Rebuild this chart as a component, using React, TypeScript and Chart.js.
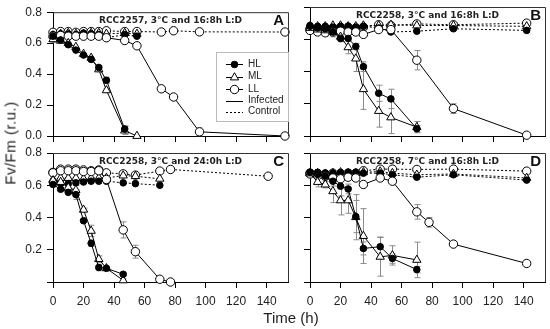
import React, { useEffect, useRef } from 'react';
import { Chart, registerables } from 'chart.js';
Chart.register(...registerables);

// ---------- axis ticks ----------
const xTicks = [0, 20, 40, 60, 80, 100, 120, 140];
const yTicks = [0, 0.2, 0.4, 0.6, 0.8];
const X_MAX = 154;

// ---------- Panel A: RCC2257, 3°C and 16:8h L:D ----------
const aHLinfT = [0, 5, 10, 15, 20, 25, 30, 35, 47];
const aHLinfV = [0.645, 0.62, 0.59, 0.555, 0.523, 0.495, 0.443, 0.36, 0.045];
const aHLinfE = [0, 0, 0, 0, 0, 0, 0.01, 0.02, 0.02];
const aMLinfT = [0, 5, 10, 15, 20, 25, 30, 35, 47, 55];
const aMLinfV = [0.625, 0.615, 0.6, 0.575, 0.53, 0.505, 0.43, 0.295, 0.035, 0.0];
const aMLinfE = [0.02, 0, 0, 0, 0, 0, 0, 0.01, 0.025, 0];
const aLLinfT = [0, 5, 10, 15, 20, 25, 30, 35, 47, 55, 71, 79, 96, 152];
const aLLinfV = [0.645, 0.65, 0.645, 0.645, 0.645, 0.645, 0.645, 0.635, 0.617, 0.583, 0.305, 0.252, 0.027, 0.0];
const aLLinfE = [0, 0, 0, 0, 0, 0, 0, 0, 0, 0, 0.015, 0, 0.025, 0];
const aCtlT = [0, 5, 10, 15, 20, 25, 30, 35, 47, 55];
const aHLctlV = [0.655, 0.66, 0.66, 0.655, 0.665, 0.66, 0.655, 0.635, 0.655, 0.645];
const aMLctlV = [0.65, 0.66, 0.665, 0.66, 0.66, 0.665, 0.665, 0.66, 0.665, 0.66];
const aLLctlT = [0, 5, 10, 15, 20, 25, 30, 35, 47, 55, 71, 79, 96, 152];
const aLLctlV = [0.67, 0.675, 0.675, 0.67, 0.675, 0.675, 0.675, 0.68, 0.675, 0.675, 0.672, 0.68, 0.673, 0.672];

// ---------- Panel B: RCC2258, 3°C and 16:8h L:D ----------
const bInfT = [0, 5, 10, 15, 20, 25, 30, 35, 45, 53, 70];
const bHLinfV = [0.68, 0.67, 0.665, 0.645, 0.605, 0.605, 0.555, 0.43, 0.265, 0.23, 0.045];
const bHLinfE = [0, 0, 0, 0.01, 0.02, 0, 0.02, 0.03, 0.05, 0.06, 0.02];
const bMLinfV = [0.67, 0.66, 0.655, 0.645, 0.615, 0.55, 0.48, 0.29, 0.155, 0.115, 0.055];
const bMLinfE = [0.02, 0.02, 0.02, 0.03, 0.03, 0.04, 0.08, 0.125, 0.1, 0.1, 0.035];
const bLLT = [0, 5, 10, 15, 20, 25, 30, 35, 45, 53, 70, 94, 142];
const bLLinfV = [0.655, 0.645, 0.64, 0.645, 0.65, 0.645, 0.645, 0.63, 0.66, 0.66, 0.47, 0.17, 0.005];
const bLLinfE = [0.01, 0.015, 0.02, 0.015, 0, 0, 0, 0.01, 0, 0, 0.06, 0.03, 0];
const bHLctlV = [0.685, 0.68, 0.68, 0.675, 0.68, 0.68, 0.675, 0.68, 0.67, 0.645, 0.65, 0.665, 0.655];
const bMLctlV = [0.68, 0.68, 0.68, 0.685, 0.685, 0.68, 0.68, 0.685, 0.685, 0.69, 0.685, 0.685, 0.68];
const bLLctlV = [0.665, 0.67, 0.67, 0.67, 0.675, 0.675, 0.67, 0.675, 0.69, 0.685, 0.695, 0.69, 0.7];

// ---------- Panel C: RCC2258, 3°C and 24:0h L:D ----------
const cInfT = [0, 5, 10, 15, 20, 25, 30, 35, 46];
const cHLinfV = [0.605, 0.575, 0.556, 0.542, 0.38, 0.24, 0.09, 0.085, 0.048];
const cHLinfE = [0.01, 0.01, 0, 0.03, 0, 0.02, 0.02, 0, 0.01];
const cMLinfV = [0.63, 0.62, 0.585, 0.57, 0.448, 0.317, 0.142, 0.085, 0.01];
const cMLinfE = [0.01, 0.02, 0.01, 0.03, 0.01, 0.035, 0.02, 0, 0.01];
const cLLinfT = [0, 5, 10, 15, 20, 25, 30, 35, 46, 54, 70, 77];
const cLLinfV = [0.677, 0.69, 0.69, 0.69, 0.685, 0.685, 0.69, 0.636, 0.323, 0.188, 0.017, 0.0];
const cLLinfE = [0, 0, 0, 0, 0, 0, 0, 0, 0.05, 0.04, 0.01, 0];
const cCtlT = [0, 5, 10, 15, 20, 25, 30, 35, 46, 54, 70];
const cHLctlV = [0.61, 0.61, 0.61, 0.615, 0.62, 0.625, 0.625, 0.625, 0.615, 0.61, 0.6];
const cMLctlV = [0.636, 0.645, 0.645, 0.645, 0.64, 0.645, 0.645, 0.645, 0.66, 0.656, 0.64];
const cLLctlT = [0, 5, 10, 15, 20, 25, 30, 35, 46, 54, 70, 77, 141];
const cLLctlV = [0.68, 0.7, 0.7, 0.7, 0.695, 0.69, 0.695, 0.677, 0.671, 0.663, 0.688, 0.698, 0.656];

// ---------- Panel D: RCC2258, 7°C and 16:8h L:D ----------
const dInfT = [0, 5, 10, 15, 20, 25, 30, 35, 46, 54, 70];
const dHLinfV = [0.68, 0.667, 0.656, 0.625, 0.594, 0.577, 0.406, 0.208, 0.219, 0.146, 0.077];
const dHLinfE = [0.01, 0.02, 0.02, 0.03, 0.06, 0.03, 0.1, 0.04, 0.06, 0.03, 0.02];
const dMLinfV = [0.673, 0.62, 0.604, 0.5625, 0.506, 0.506, 0.402, 0.285, 0.156, 0.165, 0.137];
const dMLinfE = [0.02, 0.03, 0.02, 0.07, 0.09, 0.08, 0.14, 0.17, 0.12, 0.06, 0.11];
const dLLinfT = [0, 5, 10, 15, 20, 25, 30, 35, 46, 54, 70, 78, 94, 142];
const dLLinfV = [0.67, 0.66, 0.655, 0.645, 0.64, 0.65, 0.645, 0.605, 0.645, 0.625, 0.435, 0.37, 0.235, 0.115];
const dLLinfE = [0, 0, 0, 0.01, 0.01, 0, 0, 0, 0, 0, 0.045, 0.03, 0.01, 0];
const dCtlT = [0, 5, 10, 15, 20, 25, 30, 35, 46, 54, 70, 94, 142];
const dHLctlV = [0.68, 0.68, 0.675, 0.675, 0.68, 0.68, 0.68, 0.675, 0.675, 0.665, 0.65, 0.665, 0.632];
const dMLctlV = [0.675, 0.675, 0.67, 0.675, 0.68, 0.675, 0.675, 0.68, 0.685, 0.675, 0.665, 0.67, 0.645];
const dLLctlV = [0.675, 0.67, 0.67, 0.675, 0.665, 0.675, 0.675, 0.69, 0.7, 0.7, 0.698, 0.7, 0.6875];

// ---------- text ----------
const legendLabels = ['HL', 'ML', 'LL', 'Infected', 'Control'];
const yTitle = 'Fv/Fm (r.u.)';
const xTitle = 'Time (h)';

type Kind = 'HL' | 'ML' | 'LL';
type Series = { kind: Kind; ctrl: boolean; t: number[]; v: number[]; e?: number[] };
type PanelSpec = {
  title: string;
  letter: string;
  area: { left: number; right: number; top: number; bottom: number };
  showXLabels: boolean;
  showYLabels: boolean;
  hideZeroY: boolean;
  legend: boolean;
  series: Series[];
};

const panels: PanelSpec[] = [
  {
    title: 'RCC2257, 3°C and 16:8h L:D', letter: 'A',
    area: { left: 53, right: 288, top: 7, bottom: 136 },
    showXLabels: false, showYLabels: true, hideZeroY: false, legend: true,
    series: [
      { kind: 'HL', ctrl: false, t: aHLinfT, v: aHLinfV, e: aHLinfE },
      { kind: 'ML', ctrl: false, t: aMLinfT, v: aMLinfV, e: aMLinfE },
      { kind: 'LL', ctrl: false, t: aLLinfT, v: aLLinfV, e: aLLinfE },
      { kind: 'HL', ctrl: true, t: aCtlT, v: aHLctlV },
      { kind: 'ML', ctrl: true, t: aCtlT, v: aMLctlV },
      { kind: 'LL', ctrl: true, t: aLLctlT, v: aLLctlV },
    ],
  },
  {
    title: 'RCC2258, 3°C and 16:8h L:D', letter: 'B',
    area: { left: 310, right: 545, top: 7, bottom: 136 },
    showXLabels: false, showYLabels: false, hideZeroY: false, legend: false,
    series: [
      { kind: 'HL', ctrl: false, t: bInfT, v: bHLinfV, e: bHLinfE },
      { kind: 'ML', ctrl: false, t: bInfT, v: bMLinfV, e: bMLinfE },
      { kind: 'LL', ctrl: false, t: bLLT, v: bLLinfV, e: bLLinfE },
      { kind: 'HL', ctrl: true, t: bLLT, v: bHLctlV },
      { kind: 'ML', ctrl: true, t: bLLT, v: bMLctlV },
      { kind: 'LL', ctrl: true, t: bLLT, v: bLLctlV },
    ],
  },
  {
    title: 'RCC2258, 3°C and 24:0h L:D', letter: 'C',
    area: { left: 53, right: 288, top: 153, bottom: 282 },
    showXLabels: true, showYLabels: true, hideZeroY: true, legend: false,
    series: [
      { kind: 'HL', ctrl: false, t: cInfT, v: cHLinfV, e: cHLinfE },
      { kind: 'ML', ctrl: false, t: cInfT, v: cMLinfV, e: cMLinfE },
      { kind: 'LL', ctrl: false, t: cLLinfT, v: cLLinfV, e: cLLinfE },
      { kind: 'HL', ctrl: true, t: cCtlT, v: cHLctlV },
      { kind: 'ML', ctrl: true, t: cCtlT, v: cMLctlV },
      { kind: 'LL', ctrl: true, t: cLLctlT, v: cLLctlV },
    ],
  },
  {
    title: 'RCC2258, 7°C and 16:8h L:D', letter: 'D',
    area: { left: 310, right: 545, top: 153, bottom: 282 },
    showXLabels: true, showYLabels: false, hideZeroY: false, legend: false,
    series: [
      { kind: 'HL', ctrl: false, t: dInfT, v: dHLinfV, e: dHLinfE },
      { kind: 'ML', ctrl: false, t: dInfT, v: dMLinfV, e: dMLinfE },
      { kind: 'LL', ctrl: false, t: dLLinfT, v: dLLinfV, e: dLLinfE },
      { kind: 'HL', ctrl: true, t: dCtlT, v: dHLctlV },
      { kind: 'ML', ctrl: true, t: dCtlT, v: dMLctlV },
      { kind: 'LL', ctrl: true, t: dCtlT, v: dLLctlV },
    ],
  },
];

const W = 550;
const H = 329;
const SANS = '"Liberation Sans", Arial, sans-serif';
const Y_AXIS_W = 53;

const pointStyleOf: Record<Kind, string> = { HL: 'circle', ML: 'triangle', LL: 'circle' };
const radiusOf: Record<Kind, number> = { HL: 3.3, ML: 4.8, LL: 4.2 };
const fillOf: Record<Kind, string> = { HL: '#000', ML: '#fff', LL: '#fff' };

function drawMarker(ctx: CanvasRenderingContext2D, kind: Kind, x: number, y: number) {
  const r = radiusOf[kind];
  ctx.beginPath();
  if (kind === 'ML') {
    let a = 0;
    ctx.moveTo(x + Math.sin(a) * r, y - Math.cos(a) * r);
    a += (2 * Math.PI) / 3;
    ctx.lineTo(x + Math.sin(a) * r, y - Math.cos(a) * r);
    a += (2 * Math.PI) / 3;
    ctx.lineTo(x + Math.sin(a) * r, y - Math.cos(a) * r);
    ctx.closePath();
  } else {
    ctx.arc(x, y, r, 0, Math.PI * 2);
  }
  ctx.fillStyle = fillOf[kind];
  ctx.fill();
  ctx.strokeStyle = '#000';
  ctx.lineWidth = 1;
  ctx.stroke();
}

function makeConfig(p: PanelSpec): any {
  const a = p.area;
  const xAxisH = p.showXLabels ? 30 : 20;
  const padding = {
    left: a.left - Y_AXIS_W,
    right: W - a.right,
    top: a.top,
    bottom: H - a.bottom - xAxisH,
  };
  const datasets = p.series.map((s) => ({
    data: s.t.map((t, i) => ({ x: t, y: s.v[i] })),
    errors: s.e,
    borderColor: '#000',
    borderWidth: 1,
    borderDash: s.ctrl ? [2, 2] : [],
    pointStyle: pointStyleOf[s.kind],
    pointRadius: radiusOf[s.kind],
    pointBackgroundColor: fillOf[s.kind],
    pointBorderColor: '#000',
    pointBorderWidth: 1,
    tension: 0,
    fill: false,
    clip: false,
  }));

  const decor = {
    id: 'decor' + p.letter,
    beforeDatasetsDraw(chart: any) {
      const ctx = chart.ctx as CanvasRenderingContext2D;
      const xs = chart.scales.x;
      const ys = chart.scales.y;
      ctx.save();
      ctx.strokeStyle = '#8a8a8a';
      ctx.lineWidth = 1;
      chart.data.datasets.forEach((ds: any) => {
        if (!ds.errors) return;
        ds.data.forEach((pt: any, i: number) => {
          const e = ds.errors[i];
          if (!e) return;
          const x = Math.round(xs.getPixelForValue(pt.x)) + 0.5;
          const y1 = ys.getPixelForValue(pt.y + e);
          const y2 = ys.getPixelForValue(Math.max(0, pt.y - e));
          ctx.beginPath();
          ctx.moveTo(x, y1);
          ctx.lineTo(x, y2);
          ctx.moveTo(x - 3, y1);
          ctx.lineTo(x + 3, y1);
          ctx.moveTo(x - 3, y2);
          ctx.lineTo(x + 3, y2);
          ctx.stroke();
        });
      });
      ctx.restore();
    },
    afterDraw(chart: any) {
      const ctx = chart.ctx as CanvasRenderingContext2D;
      const ca = chart.chartArea;
      ctx.save();
      // frame (top & right)
      ctx.strokeStyle = '#333';
      ctx.lineWidth = 1;
      ctx.beginPath();
      ctx.moveTo(ca.left, ca.top + 0.5);
      ctx.lineTo(ca.right + 0.5, ca.top + 0.5);
      ctx.lineTo(ca.right + 0.5, ca.bottom);
      ctx.stroke();
      // title
      ctx.fillStyle = '#222';
      ctx.font = 'bold 9px "DejaVu Sans", Verdana, sans-serif';
      ctx.textAlign = 'center';
      ctx.textBaseline = 'middle';
      ctx.fillText(p.title, (ca.left + ca.right) / 2, ca.top + 8.5);
      // letter
      ctx.font = 'bold 15px ' + SANS;
      ctx.textAlign = 'right';
      ctx.fillStyle = '#111';
      ctx.fillText(p.letter, ca.right - 4, ca.top + 9);
      // legend
      if (p.legend) {
        const bx = 216, by = 52, bw = ca.right - 216, bh = 69;
        ctx.fillStyle = '#fff';
        ctx.fillRect(bx, by, bw, bh);
        ctx.strokeStyle = '#bbb';
        ctx.strokeRect(bx + 0.5, by + 0.5, bw, bh);
        const rows = [64, 76.5, 89, 100.5, 111.5];
        const kinds: Kind[] = ['HL', 'ML', 'LL'];
        ctx.font = '10px ' + SANS;
        ctx.textAlign = 'left';
        ctx.textBaseline = 'middle';
        legendLabels.forEach((lab, i) => {
          const y = rows[i];
          ctx.strokeStyle = '#000';
          ctx.lineWidth = 1;
          ctx.setLineDash(i === 4 ? [2, 2] : []);
          ctx.beginPath();
          ctx.moveTo(226, Math.round(y) + 0.5);
          ctx.lineTo(243, Math.round(y) + 0.5);
          ctx.stroke();
          ctx.setLineDash([]);
          if (i < 3) drawMarker(ctx, kinds[i], 234.5, Math.round(y) + 0.5);
          ctx.fillStyle = '#222';
          ctx.fillText(lab, 248, y);
        });
      }
      ctx.restore();
    },
  };

  return {
    type: 'line',
    data: { datasets },
    options: {
      animation: false,
      responsive: false,
      events: [],
      layout: { padding, autoPadding: false },
      plugins: { legend: { display: false }, tooltip: { enabled: false } },
      scales: {
        x: {
          type: 'linear',
          min: 0,
          max: X_MAX,
          afterBuildTicks: (s: any) => {
            s.ticks = xTicks.map((v) => ({ value: v }));
          },
          afterFit: (s: any) => {
            s.height = xAxisH;
          },
          border: { display: true, color: '#000', width: 1 },
          grid: { display: true, drawOnChartArea: false, drawTicks: true, tickLength: 6, color: '#000' },
          ticks: {
            display: p.showXLabels,
            padding: 6,
            maxRotation: 0,
            autoSkip: false,
            color: '#222',
            font: { family: SANS, size: 12 },
            callback: (v: any) => String(v),
          },
        },
        y: {
          type: 'linear',
          min: 0,
          max: 0.8,
          afterBuildTicks: (s: any) => {
            s.ticks = yTicks.map((v) => ({ value: v }));
          },
          afterFit: (s: any) => {
            s.width = Y_AXIS_W;
          },
          border: { display: true, color: '#000', width: 1 },
          grid: { display: true, drawOnChartArea: false, drawTicks: true, tickLength: 6, color: '#000' },
          ticks: {
            display: p.showYLabels,
            padding: 5,
            color: '#222',
            font: { family: SANS, size: 12 },
            callback: (v: any) => (p.hideZeroY && Math.abs(v) < 1e-9 ? '' : Number(v).toFixed(1)),
          },
        },
      },
    },
    plugins: [decor],
  };
}

function Panel({ spec }: { spec: PanelSpec }) {
  const ref = useRef<HTMLCanvasElement | null>(null);
  useEffect(() => {
    const chart = new Chart(ref.current as HTMLCanvasElement, makeConfig(spec));
    return () => chart.destroy();
  }, [spec]);
  return (
    <canvas
      ref={ref}
      width={W}
      height={H}
      style={{ position: 'absolute', left: 0, top: 0, width: W, height: H }}
    />
  );
}

export default function App() {
  return (
    <div
      style={{
        position: 'fixed',
        left: 0,
        top: 0,
        width: W,
        height: H,
        background: '#fff',
        overflow: 'hidden',
        fontFamily: SANS,
      }}
    >
      {panels.map((p) => (
        <Panel key={p.letter} spec={p} />
      ))}
      <div
        style={{
          position: 'absolute',
          left: 10,
          top: 143,
          transform: 'translate(-50%, -50%) rotate(-90deg)',
          fontSize: 15,
          color: '#222',
          whiteSpace: 'nowrap',
          letterSpacing: 0.5,
        }}
      >
        {yTitle}
      </div>
      <div
        style={{
          position: 'absolute',
          left: 291,
          top: 317,
          transform: 'translate(-50%, -50%)',
          fontSize: 15,
          color: '#222',
          whiteSpace: 'nowrap',
        }}
      >
        {xTitle}
      </div>
    </div>
  );
}
